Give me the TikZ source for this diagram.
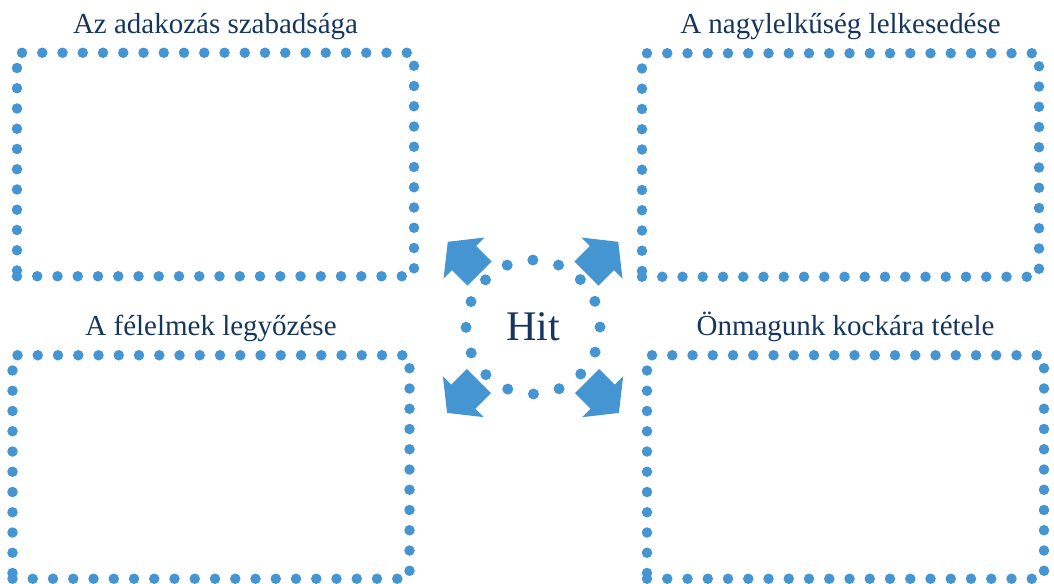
\documentclass[tikz,border=0pt]{standalone}
\usepackage{fontspec}
\setmainfont{Liberation Serif}
\usetikzlibrary{positioning}
\definecolor{dotblue}{RGB}{68,149,209}
\definecolor{titlenavy}{RGB}{23,54,93}

\begin{document}
\begin{tikzpicture}[
    node distance=0.26cm,
    dotbox/.style={
        rectangle,
        draw=dotblue,
        line width=0.21cm,
        line cap=round,
        dash pattern=on 0pt off 0.405cm,
        inner sep=0pt,
        outer sep=0pt,
        minimum width=7.94cm,
        minimum height=4.47cm
    },
    title/.style={
        text=titlenavy,
        inner sep=0pt,
        font=\fontsize{16.5}{19}\selectfont
    },
    hitring/.style={
        circle,
        draw=dotblue,
        line width=0.22cm,
        line cap=round,
        dash pattern=on 0pt off 0.527cm,
        minimum size=2.68cm,
        text=titlenavy,
        font=\fontsize{24}{28}\selectfont
    },
    blockarrow/.pic={
        \fill[dotblue] (-0.45,-0.34) -- (-0.01,-0.34) -- (-0.01,-0.58) -- (0.45,0)
            -- (-0.01,0.58) -- (-0.01,0.34) -- (-0.45,0.34) -- cycle;
    }
]
\useasboundingbox (0,0) rectangle (21.08,-11.66);

% the four boxes
\node[dotbox] (tl) at (4.31,-3.29) {};
\node[dotbox] (tr) at (16.81,-3.30) {};
\node[dotbox] (bl) at (4.22,-9.34) {};
\node[dotbox] (br) at (16.91,-9.34) {};

\node[title, above=of tl] (tltitle) {Az adakozás szabadsága};
\node[title, above=of tr] (trtitle) {A nagylelkűség lelkesedése};
\node[title, above=of bl] (bltitle) {A félelmek legyőzése};
\node[title, above=of br] (brtitle) {Önmagunk kockára tétele};

% centre
\node[hitring] (hit) at (10.66,-6.54) {Hit};

\pic[rotate=135] at ([shift={(135:1.96)}]hit.center) {blockarrow};
\pic[rotate=45] at ([shift={(45:1.96)}]hit.center) {blockarrow};
\pic[rotate=225] at ([shift={(225:1.98)}]hit.center) {blockarrow};
\pic[rotate=315] at ([shift={(315:1.98)}]hit.center) {blockarrow};

\end{tikzpicture}
\end{document}
